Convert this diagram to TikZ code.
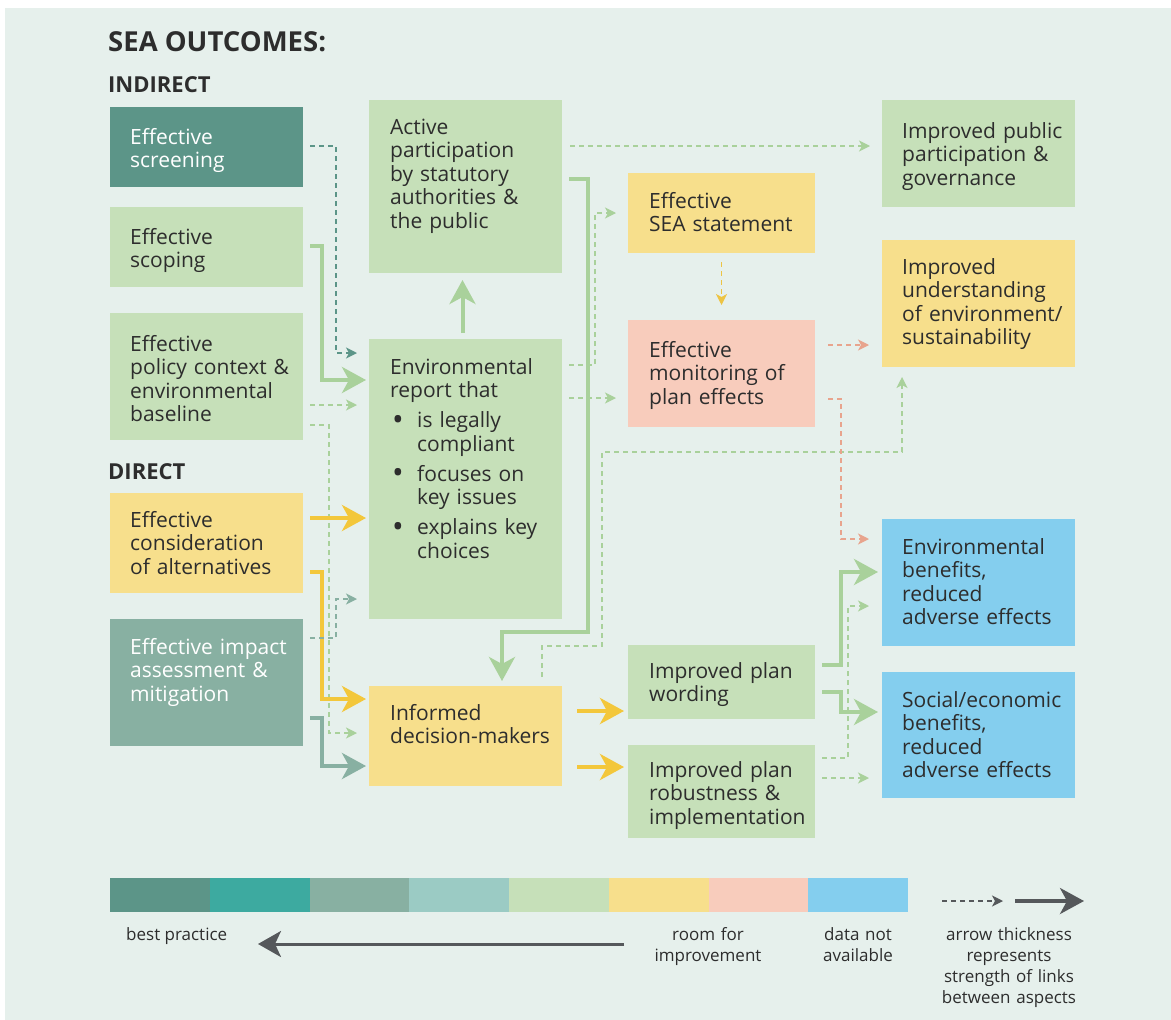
\documentclass[tikz,border=0pt]{standalone}
\usepackage{fontspec}
\setmainfont{Open Sans}
\usetikzlibrary{arrows.meta,calc}

\definecolor{bgc}{HTML}{E6F0EC}
\definecolor{ink}{HTML}{2D2D2D}
\definecolor{dteal}{HTML}{5C9588}
\definecolor{teal}{HTML}{3DAAA0}
\definecolor{ggreen}{HTML}{88B0A2}
\definecolor{pteal}{HTML}{9BCBC4}
\definecolor{lgreen}{HTML}{C6E0B9}
\definecolor{lyellow}{HTML}{F7DF8C}
\definecolor{lpink}{HTML}{F8CCBC}
\definecolor{lblue}{HTML}{84CEEE}
\definecolor{lnkgreen}{HTML}{A9D19B}
\definecolor{lnkyellow}{HTML}{F3C73B}
\definecolor{lnkpink}{HTML}{E8A48D}
\definecolor{lnkgold}{HTML}{EDC443}
\definecolor{keygray}{HTML}{55585B}

\newcommand\itembul{\makebox[27pt][l]{\hspace{2pt}\raisebox{-2.5pt}{\fontsize{31}{0}\selectfont\textbullet}}}
\newcommand\itemind{\hspace*{27pt}}

\tikzset{
  box/.style={rectangle, inner sep=0pt, outer sep=0pt, anchor=north west,
    minimum width=193pt, fill=#1},
  txt/.style={anchor=base west, inner sep=0pt, text width=182pt, align=left,
    font=\fontsize{21}{23.5}\selectfont, text=ink},
  head/.style={anchor=base west, inner sep=0pt, font=\bfseries\fontsize{#1}{#1}\selectfont, text=ink},
  keytxt/.style={anchor=base, inner sep=0pt, text width=170pt, align=center,
    font=\fontsize{17}{21}\selectfont, text=ink},
  strong/.style={draw=#1, line width=4pt,
    -{Stealth[length=24pt,width=26pt,inset=7pt]}},
  weak/.style={draw=#1, line width=1.4pt, dash pattern=on 5pt off 4pt,
    -{Stealth[length=11pt,width=11pt,inset=3pt,fill=#1]}},
}

\begin{document}
\begin{tikzpicture}[x=1pt,y=-1pt]
\useasboundingbox (0,0) rectangle (1171,1020);
\fill[bgc] (5,8) rectangle (1171,1020);

% headings
\node[head=27.5] (title) at (108,51) {SEA OUTCOMES:};
\node[head=22] (hind) at (108,92) {INDIRECT};
\node[head=22] (hdir) at (108,479) {DIRECT};

% left column
\node[box=dteal, minimum height=80pt] (scr) at (110,107) {};
\node[box=lgreen, minimum height=80pt] (scp) at (110,207) {};
\node[box=lgreen, minimum height=127pt] (pol) at (110,313) {};
\node[box=lyellow, minimum height=100pt] (alt) at (110,493) {};
\node[box=ggreen, minimum height=127pt] (imp) at (110,619) {};
\node[txt, text=white] (scr-t) at (130,144) {Effective\\screening};
\node[txt] (scp-t) at (130,244) {Effective\\scoping};
\node[txt] (pol-t) at (130,351) {Effective\\policy context \&\\environmental\\baseline};
\node[txt] (alt-t) at (130,527) {Effective\\consideration\\of alternatives};
\node[txt, text=white] (imp-t) at (130,654) {Effective impact\\assessment \&\\mitigation};

% second column
\node[box=lgreen, minimum height=173pt] (par) at (369,100) {};
\node[box=lgreen, minimum height=280pt] (rep) at (369,339) {};
\node[box=lyellow, minimum height=100pt] (dec) at (369,686) {};
\node[txt] (par-t) at (390,134) {Active\\participation\\by statutory\\authorities \&\\the public};
\node[txt] (rep-t) at (390,374) {Environmental\\report that\\[6.5pt]
  \itembul is legally\\\itemind compliant\\[6.5pt]
  \itembul focuses on\\\itemind key issues\\[6.5pt]
  \itembul explains key\\\itemind choices};
\node[txt] (dec-t) at (390,720) {Informed\\decision-makers};

% third column
\node[box=lyellow, minimum width=187pt, minimum height=80pt] (sea) at (628,173) {};
\node[box=lpink, minimum width=187pt, minimum height=107pt] (mon) at (628,320) {};
\node[box=lgreen, minimum width=187pt, minimum height=74pt] (wrd) at (628,645) {};
\node[box=lgreen, minimum width=187pt, minimum height=93pt] (rob) at (628,745) {};
\node[txt] (sea-t) at (649,208) {Effective\\SEA statement};
\node[txt] (mon-t) at (649,357) {Effective\\monitoring of\\plan effects};
\node[txt] (wrd-t) at (649,678) {Improved plan\\wording};
\node[txt] (rob-t) at (649,777) {Improved plan\\robustness \&\\implementation};

% outcomes column
\node[box=lgreen, minimum height=107pt] (pub) at (882,100) {};
\node[box=lyellow, minimum height=127pt] (und) at (882,240) {};
\node[box=lblue, minimum height=127pt] (env) at (882,519) {};
\node[box=lblue, minimum height=126pt] (soc) at (882,672) {};
\node[txt] (pub-t) at (902,138) {Improved public\\participation \&\\governance};
\node[txt] (und-t) at (902,274) {Improved\\understanding\\of environment/\\sustainability};
\node[txt] (env-t) at (902,554) {Environmental\\benefits,\\reduced\\adverse effects};
\node[txt] (soc-t) at (902,707) {Social/economic\\benefits,\\reduced\\adverse effects};

% links into the environmental report and the decision-makers
\draw[weak=dteal, shorten <=7pt, shorten >=12pt] (scr.east |- 0,146) -- ++(33,0) |- (rep.west |- 0,353);
\draw[strong=lnkgreen, shorten <=7pt, shorten >=3pt] (scp.east |- 0,246) -- ++(19,0) |- (rep.west |- 0,380);
\draw[weak=lnkgreen, shorten <=7pt, shorten >=12pt] (pol.east |- 0,405) -- (rep.west |- 0,405);
\draw[weak=lnkgreen, shorten <=7pt, shorten >=12pt] (pol.east |- 0,425) -- ++(26,0) |- (dec.west |- 0,733);
\draw[strong=lnkyellow, shorten <=7pt, shorten >=3pt] (alt.east |- 0,518) -- (rep.west |- 0,518);
\draw[strong=lnkyellow, shorten <=7pt, shorten >=3pt] (alt.east |- 0,572) -- ++(19,0) |- (dec.west |- 0,699);
\draw[weak=ggreen, shorten <=7pt, shorten >=12pt] (imp.east |- 0,638) -- ++(33,0) |- (rep.west |- 0,599);
\draw[strong=ggreen, shorten <=7pt, shorten >=3pt] (imp.east |- 0,718) -- ++(19,0) |- (dec.west |- 0,766);

% links out of the report and participation
\draw[strong=lnkgreen, shorten <=6pt, shorten >=7pt] ([xshift=-3pt]rep.north) -- ([xshift=-3pt]par.south);
\draw[strong=lnkgreen, shorten <=7pt, shorten >=5pt] (par.east |- 0,179) -- ++(26,0) -- ++(0,453) -| ([xshift=36.5pt]dec.north);
\draw[weak=lnkgreen, shorten <=8pt, shorten >=12pt] (par.east |- 0,146) -- (pub.west |- 0,146);
\draw[weak=lnkgreen, shorten <=7pt, shorten >=12pt] (rep.east |- 0,365) -- ++(33,0) |- (sea.west |- 0,213);
\draw[weak=lnkgreen, shorten <=7pt, shorten >=12pt] (rep.east |- 0,398) -- (mon.west |- 0,398);
\draw[weak=lnkgreen, shorten <=9pt, shorten >=10pt] ([xshift=76.5pt]dec.north) -- ++(0,-40) -- ++(60,0) -- ++(0,-194) -| ([xshift=-76.5pt]und.south);

% statement and monitoring
\draw[weak=lnkgold, shorten <=9pt, shorten >=15pt] (sea.south) -- (mon.north);
\draw[weak=lnkpink, shorten <=13pt, shorten >=13pt] (mon.east |- 0,345) -- (und.west |- 0,345);
\draw[weak=lnkpink, shorten <=13pt, shorten >=13pt] (mon.east |- 0,399) -- ++(26,0) |- (env.west |- 0,539);

% plan outputs
\draw[strong=lnkyellow, shorten <=15pt, shorten >=4pt] (dec.east |- 0,711) -- (wrd.west |- 0,711);
\draw[strong=lnkyellow, shorten <=15pt, shorten >=4pt] (dec.east |- 0,767) -- (rob.west |- 0,767);
\draw[strong=lnkgreen, shorten <=7pt, shorten >=4pt] (wrd.east |- 0,665) -- ++(26,0) |- (env.west |- 0,572);
\draw[strong=lnkgreen, shorten <=7pt, shorten >=4pt] (wrd.east |- 0,692) -- ++(26,0) |- (soc.west |- 0,712);
\draw[weak=lnkgreen, shorten <=7pt, shorten >=13pt] (rob.east |- 0,758) -- ++(33,0) |- (env.west |- 0,606);
\draw[weak=lnkgreen, shorten <=7pt, shorten >=13pt] (rob.east |- 0,778) -- (soc.west |- 0,778);

% colour scale
\foreach \c [count=\i from 0] in {dteal,teal,ggreen,pteal,lgreen,lyellow,lpink,lblue}
  \node[box=\c, minimum width=100pt, minimum height=34pt] (key\i) at (110+99.75*\i,878) {};
\node[anchor=base west, inner sep=0pt, font=\fontsize{17}{21}\selectfont, text=ink] (kbest) at (126,940) {best practice};
\node[keytxt] (kroom) at (708,940) {room for\\improvement};
\node[keytxt] (kdata) at (858,940) {data not\\available};
\node[keytxt] (kthick) at (1009,940) {arrow thickness\\represents\\strength of links\\between aspects};
\coordinate (scaleR) at (624,944);
\coordinate (scaleL) at (258,944);
\draw[draw=keygray, line width=3pt, -{Stealth[length=23pt,width=26pt,inset=6pt]}] (scaleR) -- (scaleL);
\coordinate (kw1) at (942,901);
\coordinate (kw2) at (1003,901);
\coordinate (ks1) at (1015,901);
\coordinate (ks2) at (1084,901);
\draw[weak=keygray, line width=1.2pt] (kw1) -- (kw2);
\draw[strong=keygray, line width=3.5pt] (ks1) -- (ks2);
\end{tikzpicture}
\end{document}
